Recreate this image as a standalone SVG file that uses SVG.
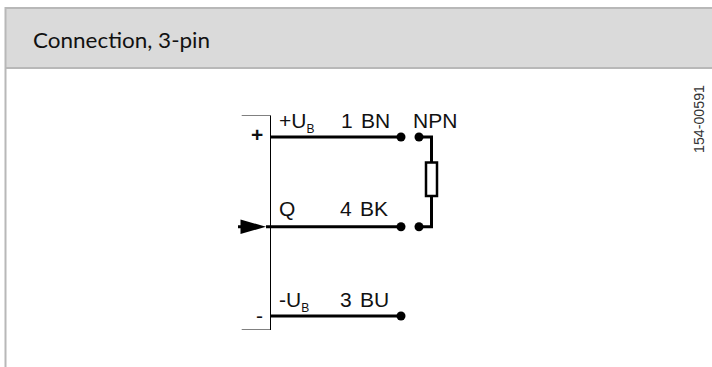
<svg xmlns="http://www.w3.org/2000/svg" width="712" height="367" viewBox="0 0 712 367">
<style>
.t{font-family:"Liberation Sans",Arial,sans-serif;font-size:21px;fill:#111}
.p{word-spacing:2.500px}
.s{font-size:12px}
.w{fill:none;stroke:#000;stroke-width:3}
.d{fill:#000}
</style>
<rect width="712" height="367" fill="#fff"/>
<g id="header">
<rect x="5.500" y="8" width="707" height="60" fill="#dadada"/>
<path d="M712 8H5.500V367M5.500 68H712" fill="none" stroke="#b8b8b8" stroke-width="2"/>
<text x="33" y="48" font-family="Lato,'Open Sans',sans-serif" font-size="21.500" fill="#111" textLength="177" lengthAdjust="spacingAndGlyphs">Connection, 3-pin</text>
</g>
<text id="code" transform="translate(704 153) rotate(-90)" font-family="'Liberation Sans',sans-serif" font-size="14" fill="#333" textLength="68" lengthAdjust="spacingAndGlyphs">154-00591</text>
<g id="connector-body">
<path d="M241.700 115.500H270.500M241.700 329.500H270.500" fill="none" stroke="#808080" stroke-width="1"/>
<path d="M270.500 115.500V330" fill="none" stroke="#000" stroke-width="1"/>
<text class="t" x="251" y="142" font-weight="bold">+</text>
<text class="t" x="256" y="323">-</text>
</g>
<g id="connectors">
<path class="w" d="M271 137H401M266 226.700H401M271 316H401M419 137H431.500V162M431.500 196V226.700H419"/>
<rect x="426" y="162.500" width="11" height="33.500" fill="#fff" stroke="#000" stroke-width="2.500"/>
<path class="d" d="M238 225.200H240.500V219.500L266 226.700L240.500 234V228.200H238Z"/>
</g>
<g id="pin-1">
<circle class="d" cx="401" cy="137" r="4.500"/>
<circle class="d" cx="419" cy="137" r="4.500"/>
<text class="t" x="279" y="128">+U<tspan class="s" dy="5">B</tspan></text>
<text class="t p" x="341" y="128">1 BN</text>
<text class="t" x="413" y="128">NPN</text>
</g>
<g id="pin-4">
<circle class="d" cx="401" cy="226.700" r="4.500"/>
<circle class="d" cx="419" cy="226.700" r="4.500"/>
<text class="t" x="279" y="216">Q</text>
<text class="t p" x="340" y="216">4 BK</text>
</g>
<g id="pin-3">
<circle class="d" cx="401" cy="316" r="4.500"/>
<text class="t" x="279" y="307">-U<tspan class="s" dy="5">B</tspan></text>
<text class="t p" x="340" y="307">3 BU</text>
</g>
</svg>
